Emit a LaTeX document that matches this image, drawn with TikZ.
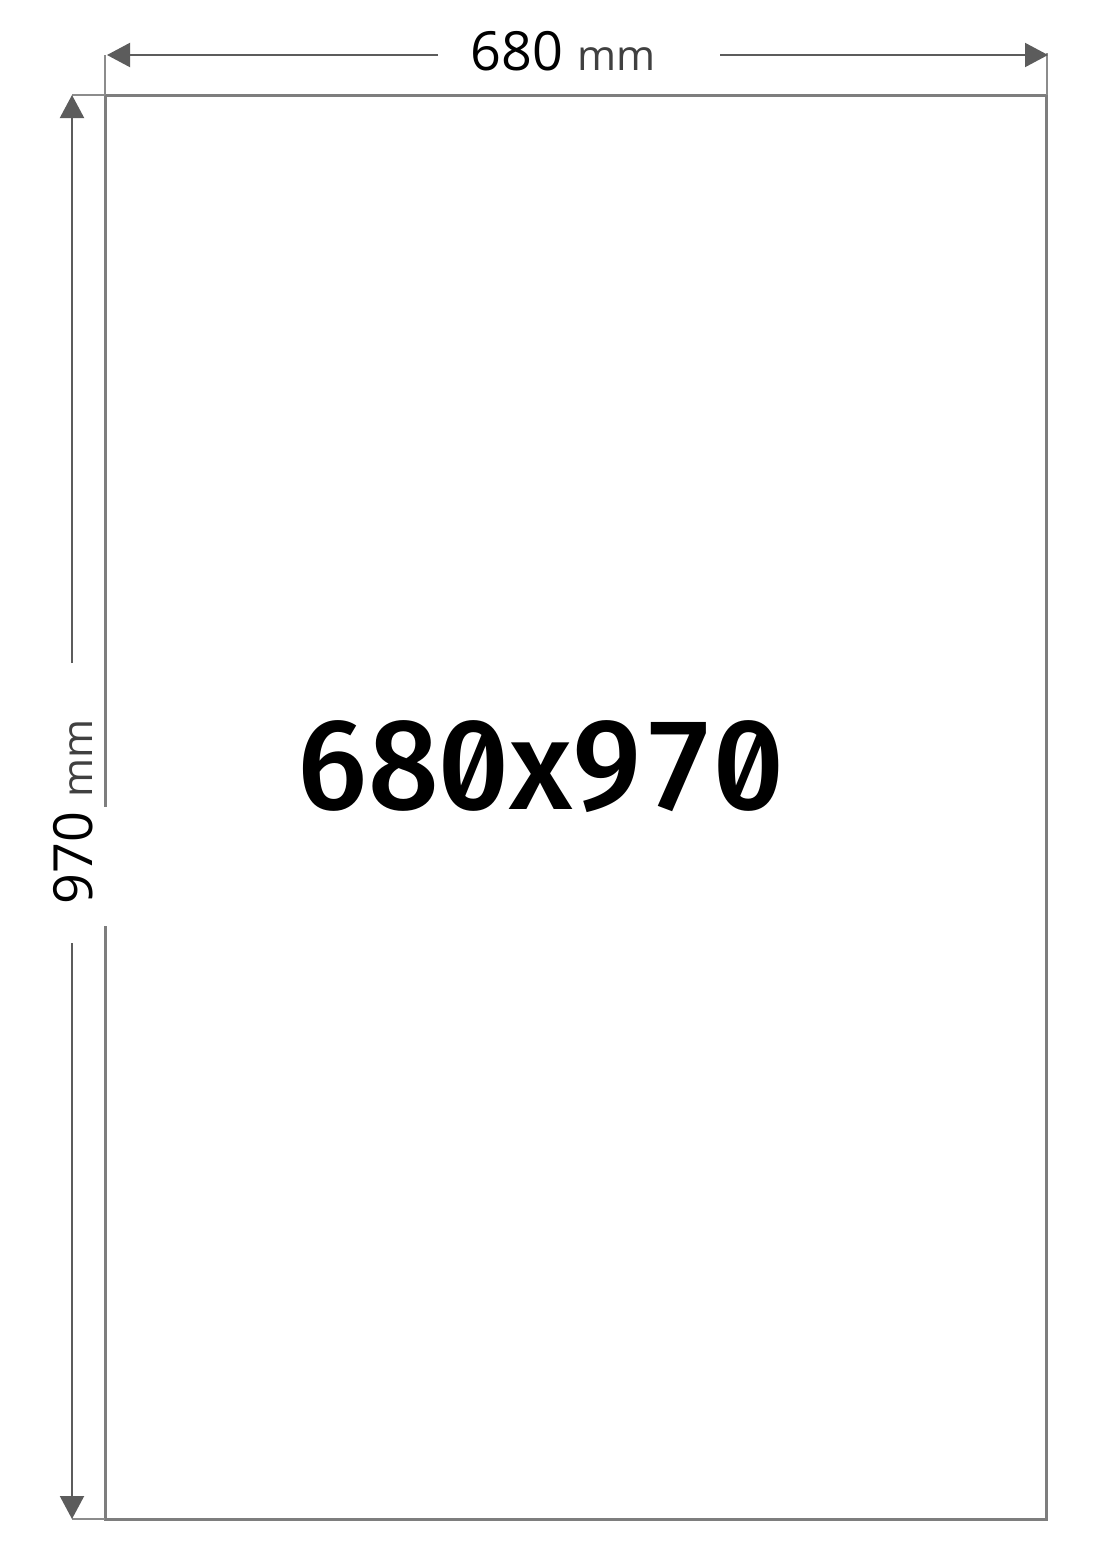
\documentclass[tikz,border=0pt]{standalone}
\usepackage{fontspec}
\setmainfont{Open Sans}
\newfontfamily\bigfont{Fira Sans Medium}[RawFeature=+zero, Numbers=Monospaced]
\usetikzlibrary{arrows.meta}
\definecolor{framegray}{HTML}{7E7E7E}
\definecolor{dimgray}{HTML}{5C5C5C}
\definecolor{extgray}{HTML}{8C8C8C}
\definecolor{unitgray}{HTML}{404040}
\newcommand{\unitmm}{\hspace{14pt}{\fontsize{42}{48}\selectfont\textcolor{unitgray}{mm}}}
\begin{document}
\begin{tikzpicture}[x=1pt,y=-1pt,
  dimline/.style={draw=dimgray, line width=2pt, -{Triangle[length=23pt,width=24pt]}},
  frameline/.style={draw=framegray, line width=3pt},
  extline/.style={draw=extgray, line width=2pt},
  dimtext/.style={inner sep=0pt, font=\fontsize{54}{60}\selectfont},
  bigtext/.style={inner sep=0pt, font=\bigfont\fontsize{126}{130}\selectfont}]
\useasboundingbox (0,0) rectangle (1100,1556);
\fill[white] (0,0) rectangle (1100,1556);
% sheet
\draw[frameline] (105,95) rectangle (1046,1519);
% extension lines
\draw[extline] (72,95) -- (105,95);
\draw[extline] (72,1519) -- (105,1519);
\draw[extline] (105,55) -- (105,95);
\draw[extline] (1047,53) -- (1047,95);
% white patch behind vertical label
\fill[white] (99,807) rectangle (111,926);
% horizontal dimension
\coordinate (hl) at (438,55);
\coordinate (hL) at (107,55);
\coordinate (hr) at (720,55);
\coordinate (hR) at (1048,55);
\draw[dimline] (hl) -- (hL);
\draw[dimline] (hr) -- (hR);
\node[dimtext, anchor=base] (wlabel) at (563,70) {680\unitmm};
% vertical dimension
\coordinate (vt) at (72,663);
\coordinate (vT) at (72,95);
\coordinate (vb) at (72,943);
\coordinate (vB) at (72,1519);
\draw[dimline] (vt) -- (vT);
\draw[dimline] (vb) -- (vB);
\node[dimtext, anchor=base, rotate=90] (hlabel) at (92,812) {970\unitmm};
% centre title
\node[bigtext] (title) at (541,767) {680x970};
\end{tikzpicture}
\end{document}
